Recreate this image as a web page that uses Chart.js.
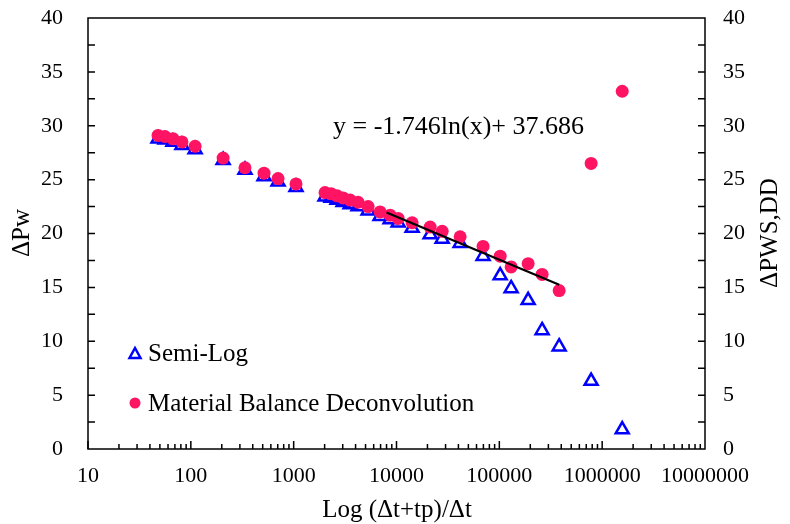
<!DOCTYPE html>
<html>
<head>
<meta charset="utf-8">
<script src="https://cdn.jsdelivr.net/npm/chart.js@4.4.0/dist/chart.umd.min.js"></script>
<style>
  html, body { margin: 0; padding: 0; background: #fff; }
  #wrap { width: 790px; height: 524px; }
</style>
</head>
<body>
<div id="wrap"><canvas id="chart" width="790" height="524"></canvas></div>
<script>
// (Δt+tp)/Δt values
const timeRatio = [48, 56, 67, 82, 110, 206, 336, 515, 705, 1054,
  2018, 2312, 2643, 3027, 3540, 4230, 5297, 6925, 8664, 10370,
  14190, 21240, 27800, 41580, 69500, 101900, 130300, 190600, 260600, 381700,
  781000, 1567000]

const semiLog = [28.8, 28.7, 28.5, 28.2, 27.8, 26.8, 25.9, 25.3, 24.8, 24.3,
  23.4, 23.3, 23.1, 22.9, 22.7, 22.5, 22.1, 21.6, 21.3, 21.0,
  20.5, 19.9, 19.5, 19.1, 17.9, 16.1, 14.9, 13.8, 11.0, 9.5,
  6.3, 1.8]

const mbDeconvolution = [29.1, 29.0, 28.8, 28.5, 28.1, 27.0, 26.1, 25.6, 25.1, 24.6,
  23.8, 23.7, 23.5, 23.3, 23.1, 22.9, 22.5, 22.0, 21.7, 21.4,
  21.0, 20.6, 20.2, 19.7, 18.8, 17.9, 16.9, 17.2, 16.2, 14.7,
  26.5, 33.2]

// log trendline end points
const trendX = [8000, 382000]
const trendY = [21.95, 15.25]
const equationText = 'y = -1.746ln(x)+ 37.686'

const xTickValues = [10, 100, 1000, 10000, 100000, 1000000, 10000000]
const seriesNames = ['Semi-Log', 'Material Balance Deconvolution']

const serif = "'Liberation Serif', 'Times New Roman', serif"
const blue = '#0000FF'
const pink = '#FF1464'

function pairs(xs, ys) {
  return xs.map((x, i) => ({ x: x, y: ys[i] }))
}

const decor = {
  id: 'decor',
  beforeDatasetsDraw(chart) {
    let ctx = chart.ctx
    let area = chart.chartArea
    let x = chart.scales.x
    let y = chart.scales.y
    ctx.save()
    ctx.strokeStyle = '#000'
    ctx.lineWidth = 1.5
    ctx.strokeRect(area.left, area.top, area.right - area.left, area.bottom - area.top)
    ctx.beginPath()
    for (let v = 2.5; v < 40; v += 2.5) {
      let py = y.getPixelForValue(v)
      ctx.moveTo(area.left, py)
      ctx.lineTo(area.left + 7, py)
      ctx.moveTo(area.right, py)
      ctx.lineTo(area.right - 7, py)
    }
    for (let d = 10; d < 10000000; d *= 10) {
      for (let m = 1; m < 10; m++) {
        let px = x.getPixelForValue(d * m)
        let len = m === 1 ? 8 : 5
        ctx.moveTo(px, area.bottom)
        ctx.lineTo(px, area.bottom - len)
      }
    }
    ctx.stroke()
    ctx.restore()
  },
  afterDraw(chart) {
    let ctx = chart.ctx
    ctx.save()
    ctx.fillStyle = '#000'
    ctx.textBaseline = 'middle'

    // equation
    ctx.font = '26px ' + serif
    ctx.textAlign = 'left'
    ctx.fillText(equationText, 333, 127)

    // legend
    ctx.strokeStyle = blue
    ctx.lineWidth = 2.5
    ctx.beginPath()
    ctx.moveTo(135, 348)
    ctx.lineTo(140.5, 358)
    ctx.lineTo(129.5, 358)
    ctx.closePath()
    ctx.stroke()
    ctx.fillStyle = pink
    ctx.beginPath()
    ctx.arc(135, 403, 5.5, 0, Math.PI * 2)
    ctx.fill()
    ctx.fillStyle = '#000'
    ctx.font = '25px ' + serif
    ctx.fillText(seriesNames[0], 148, 354)
    ctx.fillText(seriesNames[1], 148, 404)

    // axis titles
    ctx.font = '25px ' + serif
    ctx.textAlign = 'center'
    ctx.fillText('Log (\u0394t+tp)/\u0394t', 397, 510)
    ctx.save()
    ctx.translate(22, 233)
    ctx.rotate(-Math.PI / 2)
    ctx.fillText('\u0394Pw', 0, 0)
    ctx.restore()
    ctx.save()
    ctx.translate(770, 233)
    ctx.rotate(-Math.PI / 2)
    ctx.fillText('\u0394PWS,DD', 0, 0)
    ctx.restore()
    ctx.restore()
  }
}

const tickFont = { family: serif, size: 22 }

// fixed axis box sizes, and no extra label padding above / below the plot
function fixWidth(w) {
  return s => {
    s.width = w
    s.paddingTop = 0
    s.paddingBottom = 0
  }
}

new Chart(document.getElementById('chart'), {
  type: 'scatter',
  data: {
    datasets: [
      {
        type: 'line',
        label: 'trend',
        data: pairs(trendX, trendY),
        borderColor: '#000',
        borderWidth: 2.2,
        pointRadius: 0,
        fill: false,
        order: 0
      },
      {
        label: seriesNames[1],
        data: pairs(timeRatio, mbDeconvolution),
        pointStyle: 'circle',
        pointRadius: 6.5,
        backgroundColor: pink,
        borderColor: pink,
        borderWidth: 0,
        order: 1
      },
      {
        label: seriesNames[0],
        data: pairs(timeRatio, semiLog),
        pointStyle: 'triangle',
        pointRadius: 7.5,
        backgroundColor: 'rgba(0,0,0,0)',
        borderColor: blue,
        borderWidth: 2.5,
        order: 2
      }
    ]
  },
  options: {
    responsive: false,
    animation: false,
    devicePixelRatio: 1,
    layout: { padding: { top: 18, left: 0, right: 0, bottom: 0 } },
    plugins: {
      legend: { display: false },
      tooltip: { enabled: false }
    },
    scales: {
      x: {
        type: 'logarithmic',
        position: 'bottom',
        min: 10,
        max: 10000000,
        afterBuildTicks: s => { s.ticks = xTickValues.map(v => ({ value: v })) },
        afterFit: s => { s.height = 75 },
        grid: { display: false, drawTicks: false },
        border: { display: false },
        ticks: {
          autoSkip: false,
          maxRotation: 0,
          padding: 14,
          color: '#000',
          font: tickFont,
          callback: v => String(v)
        }
      },
      y: {
        position: 'left',
        min: 0,
        max: 40,
        afterFit: fixWidth(88),
        grid: { display: false, drawTicks: false },
        border: { display: false },
        ticks: { stepSize: 5, padding: 25, color: '#000', font: tickFont }
      },
      y2: {
        position: 'right',
        min: 0,
        max: 40,
        afterFit: fixWidth(85),
        grid: { display: false, drawTicks: false },
        border: { display: false },
        ticks: { stepSize: 5, padding: 18, color: '#000', font: tickFont }
      }
    }
  },
  plugins: [decor]
})
</script>
</body>
</html>
